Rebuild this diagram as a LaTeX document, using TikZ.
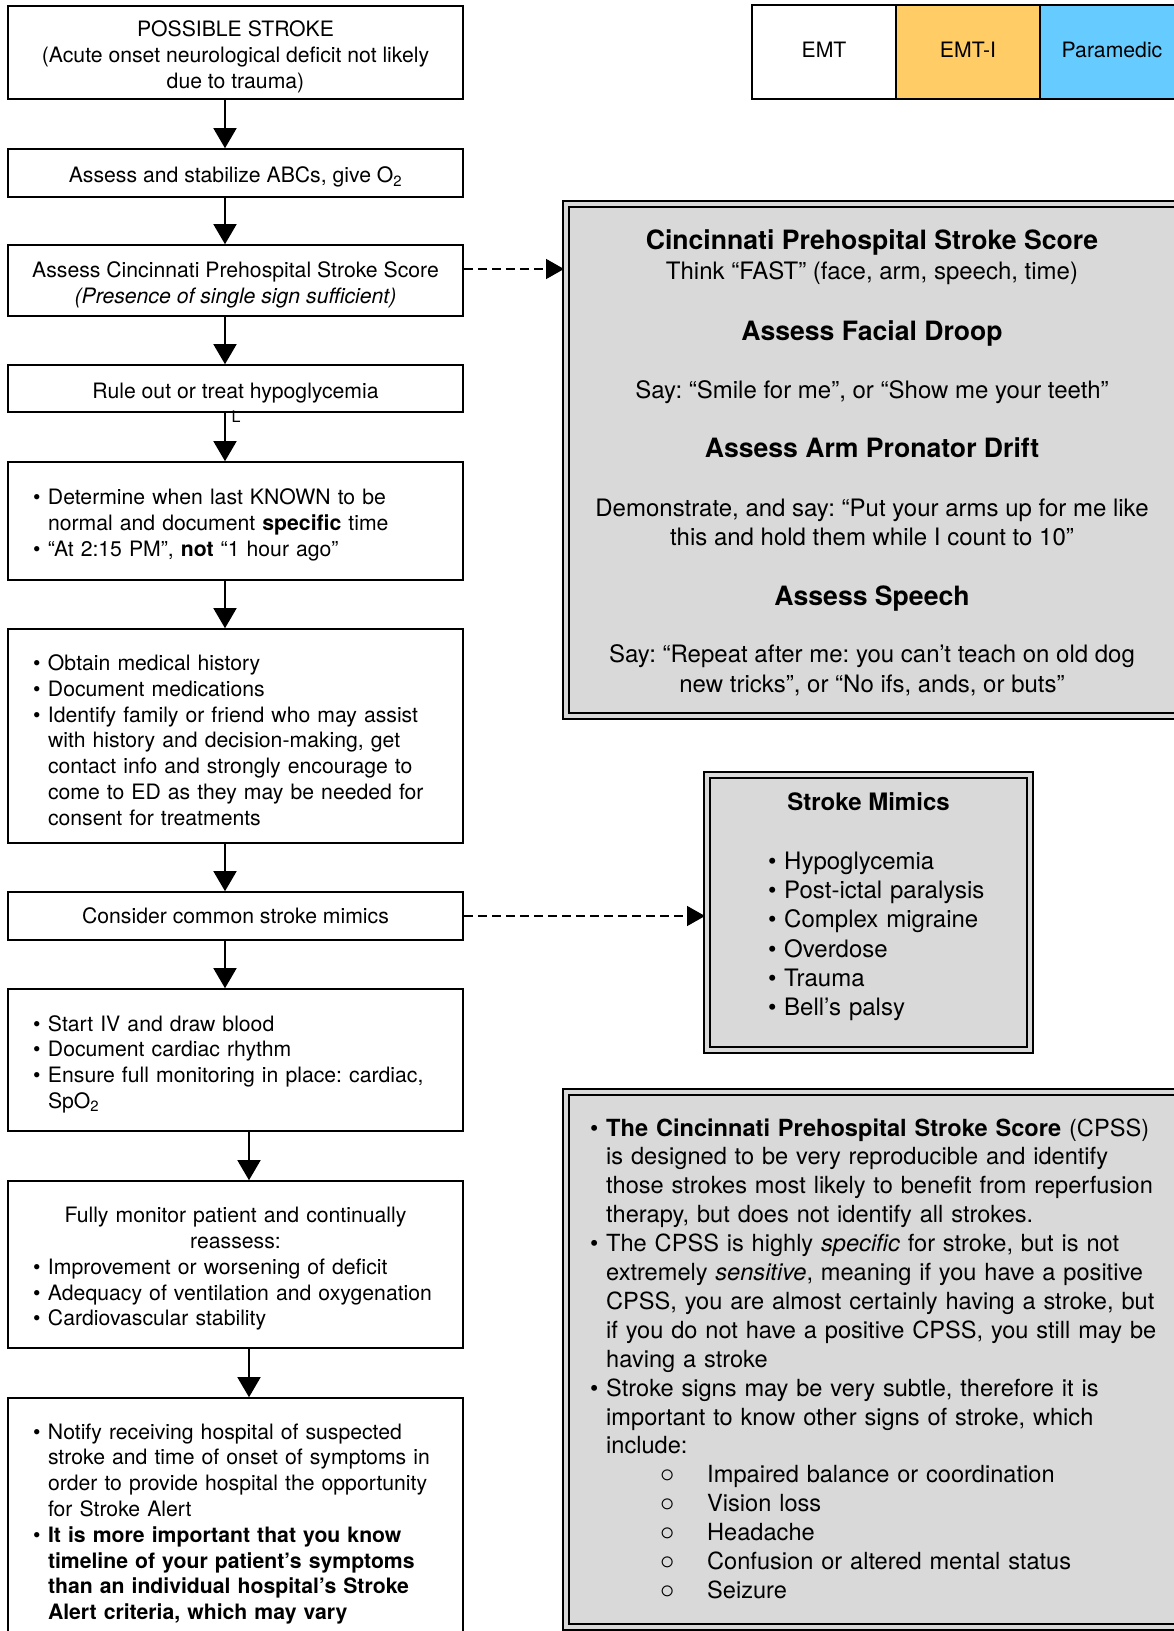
\documentclass[tikz,border=0pt]{standalone}
\usepackage{fontspec}
\setmainfont{TeX Gyre Heros}
\usetikzlibrary{arrows.meta}
\frenchspacing
\definecolor{boxgray}{RGB}{217,217,217}
\definecolor{emtiorange}{RGB}{255,204,102}
\definecolor{medblue}{RGB}{102,204,255}
\newcommand\bu{\makebox[15pt][l]{•}}
\newcommand\ind{\hspace*{15pt}}
\newcommand\rbu{\makebox[16pt][l]{•}}
\newcommand\rind{\hspace*{16pt}}
\newcommand\dn{\rule{0pt}{24pt}}
\newcommand\subit[1]{\hspace*{70pt}\makebox[47pt][l]{\scalebox{1.15}{$\circ$}}#1}
\newcommand\lfont{\fontsize{21.2}{25.8}\selectfont\frenchspacing}
\newcommand\rfont{\fontsize{24}{29.2}\selectfont\frenchspacing}
\newcommand\nfont{\fontsize{23.6}{28.9}\selectfont\frenchspacing}
\newcommand\hfont{\fontsize{26.6}{31}\selectfont\bfseries}
\begin{document}
\begin{tikzpicture}[x=1pt,y=-1pt,
  flow/.style={draw, line width=1.6pt, minimum width=455pt, inner sep=0pt, font=\lfont},
  flowlist/.style={flow, text width=405pt, align=left},
  lvl/.style={draw, line width=1.6pt, minimum width=144pt, minimum height=94pt, inner sep=0pt, font=\lfont},
  dblbox/.style={draw, fill=boxgray, line width=2pt, double=boxgray, double distance=4pt, inner sep=0pt},
  arr/.style={line width=1.5pt, -{Triangle[length=20pt,width=23pt]}},
  darr/.style={line width=1.5pt, dash pattern=on 9pt off 5pt, -{Triangle[length=18pt,width=20pt]}, shorten >=1pt},
  rtext/.style={font=\rfont, anchor=base, align=center},
  htext/.style={font=\hfont, anchor=base}]
\useasboundingbox (0,0) rectangle (1174,1631);
\clip (0,0) rectangle (1174,1631);
\fill[white] (0,0) rectangle (1174,1631);

% ---------- left flow ----------
\node[flow, minimum height=93pt, align=center] (B1) at (235.5,52.5)
  {\dn POSSIBLE STROKE\\(Acute onset neurological deficit not likely\\due to trauma)};
\node[flow, minimum height=48pt] (B2) at (235.5,173)
  {\dn Assess and stabilize ABCs, give O\textsubscript{2}};
\node[flow, minimum height=71pt, align=center] (B3) at (235.5,280.5)
  {\dn Assess Cincinnati Prehospital Stroke Score\\\textit{(Presence of single sign sufficient)}};
\node[flow, minimum height=47pt] (B4) at (235.5,388.5)
  {\dn Rule out or treat hypoglycemia};
\node[font=\fontsize{16}{18}\selectfont, anchor=base west, inner sep=0pt] (Lmark) at (231.5,422) {L};
\node[flowlist, minimum height=118pt] (B5) at (235.5,521)
  {\dn\bu Determine when last KNOWN to be\\
   \ind normal and document \textbf{specific} time\\
   \bu “At 2:15 PM”, \textbf{not} “1 hour ago”};
\node[flowlist, minimum height=214pt] (B6) at (235.5,736)
  {\dn\bu Obtain medical history\\
   \bu Document medications\\
   \bu Identify family or friend who may assist\\
   \ind with history and decision-making, get\\
   \ind contact info and strongly encourage to\\
   \ind come to ED as they may be needed for\\
   \ind consent for treatments};
\node[flow, minimum height=48pt] (B7) at (235.5,916)
  {Consider common stroke mimics};
\node[flowlist, minimum height=142pt] (B8) at (235.5,1060)
  {\dn\bu Start IV and draw blood\\
   \bu Document cardiac rhythm\\
   \bu Ensure full monitoring in place: cardiac,\\
   \ind SpO\textsubscript{2}};
\node[flowlist, minimum height=167pt] (B9) at (235.5,1264.5)
  {\dn\makebox[405pt][c]{Fully monitor patient and continually}\\
   \makebox[405pt][c]{reassess:}\\
   \bu Improvement or worsening of deficit\\
   \bu Adequacy of ventilation and oxygenation\\
   \bu Cardiovascular stability};
\node[flowlist, minimum height=252pt] (B10) at (235.5,1524)
  {\bu Notify receiving hospital of suspected\\
   \ind stroke and time of onset of symptoms in\\
   \ind order to provide hospital the opportunity\\
   \ind for Stroke Alert\\
   \bu \textbf{It is more important that you know}\\
   \ind \textbf{timeline of your patient’s symptoms}\\
   \ind \textbf{than an individual hospital’s Stroke}\\
   \ind \textbf{Alert criteria, which may vary}};

\draw[arr] ([xshift=-10.5pt]B1.south) -- ([xshift=-10.5pt]B2.north);
\draw[arr] ([xshift=-10.5pt]B2.south) -- ([xshift=-10.5pt]B3.north);
\draw[arr] ([xshift=-10.5pt]B3.south) -- ([xshift=-10.5pt]B4.north);
\draw[arr] ([xshift=-10.5pt]B4.south) -- ([xshift=-10.5pt]B5.north);
\draw[arr] ([xshift=-10.5pt]B5.south) -- ([xshift=-10.5pt]B6.north);
\draw[arr] ([xshift=-10.5pt]B6.south) -- ([xshift=-10.5pt]B7.north);
\draw[arr] ([xshift=-10.5pt]B7.south) -- ([xshift=-10.5pt]B8.north);
\draw[arr] ([xshift=13.5pt]B8.south) -- ([xshift=13.5pt]B9.north);
\draw[arr] ([xshift=13.5pt]B9.south) -- ([xshift=13.5pt]B10.north);

% ---------- levels ----------
\node[lvl, fill=white] (EMT) at (824,52) {\raisebox{4pt}{EMT}};
\node[lvl, fill=emtiorange] (EMTI) at (968,52) {\raisebox{4pt}{EMT-I}};
\node[lvl, fill=medblue] (PARA) at (1112,52) {\raisebox{4pt}{Paramedic}};

% ---------- CPSS box ----------
\node[dblbox, minimum width=612pt, minimum height=512pt] (CPSS) at (872,460) {};
\node[htext] (c1) at (872,249.6) {Cincinnati Prehospital Stroke Score};
\node[rtext] (c2) at (872,279.6) {Think “FAST” (face, arm, speech, time)};
\node[htext] (c3) at (872,340.6) {Assess Facial Droop};
\node[rtext] (c4) at (872,398.6) {Say: “Smile for me”, or “Show me your teeth”};
\node[htext] (c5) at (872,457.6) {Assess Arm Pronator Drift};
\node[rtext] (c6) at (872,545.6) {Demonstrate, and say: “Put your arms up for me like\\this and hold them while I count to 10”};
\node[htext] (c7) at (872,605.6) {Assess Speech};
\node[rtext] (c8) at (872,692) {Say: “Repeat after me: you can’t teach on old dog\\new tricks”, or “No ifs, ands, or buts”};

% ---------- Stroke mimics ----------
\node[dblbox, minimum width=323pt, minimum height=275pt] (MIM) at (868.5,912.5) {};
\node[font=\rfont\bfseries, anchor=base] (m1) at (868.5,810.5) {Stroke Mimics};
\node[font=\rfont, anchor=base west, text width=250pt, align=left, inner sep=0pt] (m2) at (768,869.5)
  {\rbu Hypoglycemia\\
   \rbu Post-ictal paralysis\\
   \rbu Complex migraine\\
   \rbu Overdose\\
   \rbu Trauma\\
   \rbu Bell’s palsy};

% ---------- CPSS notes ----------
\node[dblbox, minimum width=612pt, minimum height=535pt] (NOTE) at (872,1359.5) {};
\node[font=\nfont, anchor=base west, text width=580pt, align=left, inner sep=0pt] (n1) at (590,1136)
  {\rbu \textbf{The Cincinnati Prehospital Stroke Score} (CPSS)\\
   \rind is designed to be very reproducible and identify\\
   \rind those strokes most likely to benefit from reperfusion\\
   \rind therapy, but does not identify all strokes.\\
   \rbu The CPSS is highly \textit{specific} for stroke, but is not\\
   \rind extremely \textit{sensitive}, meaning if you have a positive\\
   \rind CPSS, you are almost certainly having a stroke, but\\
   \rind if you do not have a positive CPSS, you still may be\\
   \rind having a stroke\\
   \rbu Stroke signs may be very subtle, therefore it is\\
   \rind important to know other signs of stroke, which\\
   \rind include:\\
   \subit{Impaired balance or coordination}\\
   \subit{Vision loss}\\
   \subit{Headache}\\
   \subit{Confusion or altered mental status}\\
   \subit{Seizure}};

\draw[darr] ([yshift=11.5pt]B3.east) -- ([yshift=11.5pt]B3.east -| CPSS.west);
\draw[darr] (B7.east) -- (B7.east -| MIM.west);
\end{tikzpicture}
\end{document}
